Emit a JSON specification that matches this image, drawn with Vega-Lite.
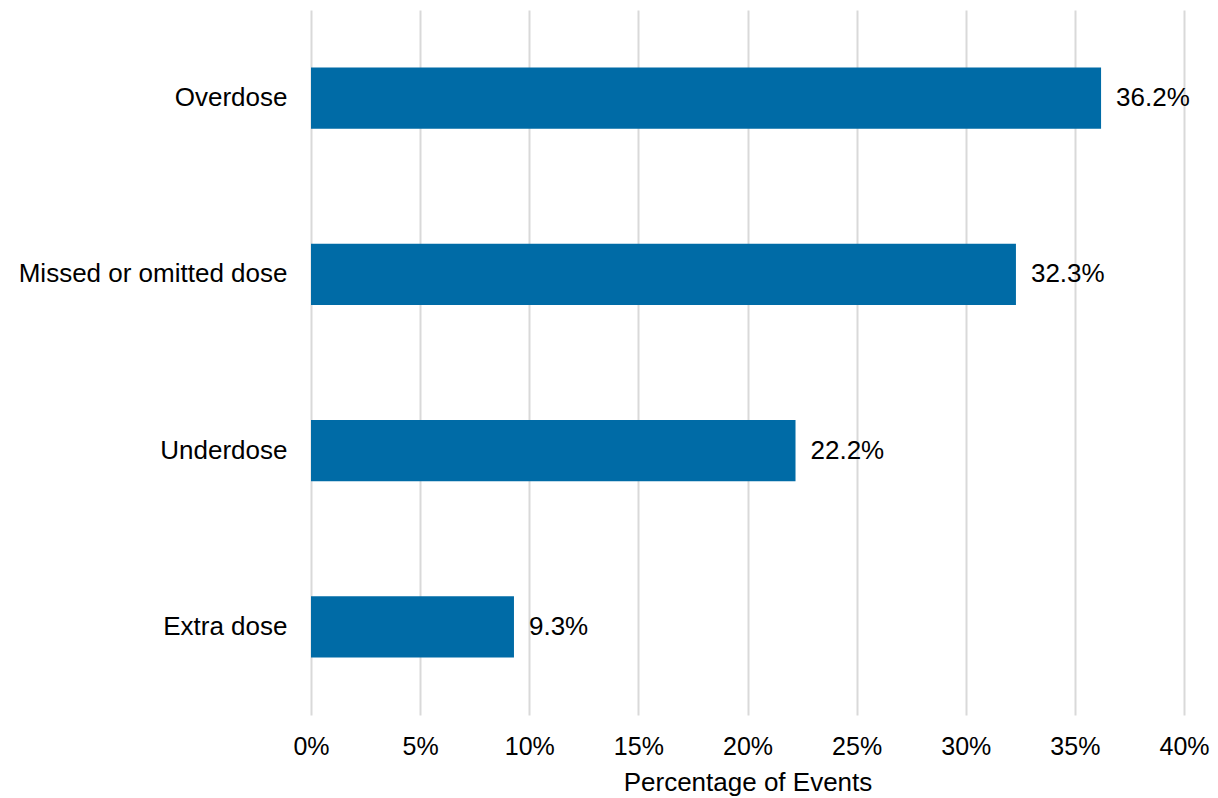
{
  "$schema": "https://vega.github.io/schema/vega-lite/v6.json",
  "width": 873,
  "height": 705,
  "autosize": {"type": "none"},
  "padding": {"left": 311, "top": 10, "right": 34, "bottom": 83},
  "background": "white",
  "config": {"view": {"stroke": null}, "font": "Liberation Sans"},
  "data": {"values": [
    {"category": "Overdose", "pct": 0.362},
    {"category": "Missed or omitted dose", "pct": 0.323},
    {"category": "Underdose", "pct": 0.222},
    {"category": "Extra dose", "pct": 0.093}
  ]},
  "encoding": {
    "y": {"field": "category", "type": "nominal", "sort": null,
      "scale": {"paddingInner": 0.653, "paddingOuter": 0.3265},
      "axis": {"title": null, "domain": false, "ticks": false, "labelFontSize": 26, "labelColor": "#000000", "labelPadding": 24, "labelLimit": 400}},
    "x": {"field": "pct", "type": "quantitative",
      "scale": {"domain": [0, 0.4], "nice": false},
      "axis": {"values": [0,0.05,0.1,0.15,0.2,0.25,0.3,0.35,0.4], "format": ".0%", "title": "Percentage of Events", "titleFontSize": 26, "titleFontWeight": "normal", "titleColor": "#000000", "titlePadding": 10, "labelFontSize": 25, "labelColor": "#000000", "labelPadding": 19, "domain": false, "ticks": false, "grid": true, "gridColor": "#d9d9d9", "gridWidth": 2, "labelFlush": false}}
  },
  "layer": [
    {"mark": {"type": "bar", "color": "#006ba6"}},
    {"mark": {"type": "text", "align": "left", "dx": 15, "fontSize": 26, "color": "#000000"},
     "encoding": {"text": {"field": "pct", "type": "quantitative", "format": ".1%"}}}
  ]
}
